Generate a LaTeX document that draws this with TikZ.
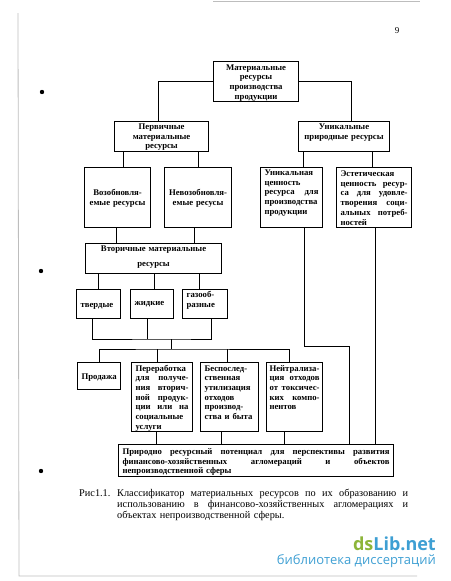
\documentclass[tikz,border=0pt]{standalone}
\usepackage{fontspec}
\setmainfont{Liberation Serif}
\newfontfamily\wmfont{Open Sans}
\usetikzlibrary{positioning}
\definecolor{wmgreen}{HTML}{8DB53A}
\definecolor{wmblue}{HTML}{3E9FD3}
\definecolor{scang}{HTML}{BDBDBD}
\newcommand{\jl}[1]{{\spaceskip=0pt\xspaceskip=0pt\makebox[\hsize][s]{#1}}}

\begin{document}
\begin{tikzpicture}[x=1pt, y=-1pt,
  box/.style={draw, line width=1.1pt, anchor=north west, inner xsep=4pt, inner ysep=0pt, font=\bfseries\fontsize{8.7}{9.7}\selectfont},
  link/.style={line width=0.9pt}]
  \useasboundingbox (0,0) rectangle (450,581);
  \draw[scang, line width=0.8pt] (18,13) -- (19,576) -- (417,576);
  \draw[scang, line width=1pt] (213,1) -- (420,1);
  \foreach \y/\x in {92/42,271/41,471/41}{\fill (\x,\y) circle[radius=2.2pt];}
  \node[font=\fontsize{9}{9}\selectfont, anchor=base] (pnum) at (397,33) {9};

  \node[box, text width=77pt, text height=8.5pt, text depth=31.5pt, align=center] (top) at (213,61) {Материальные\\ресурсы\\производства\\продукции};
  \node[box, text width=86pt, text height=8pt, text depth=22pt, align=center] (prim) at (114,121) {Первичные\\материальные\\ресурсы};
  \node[box, text width=83pt, text height=8pt, text depth=22pt, align=center] (uniq) at (298,121) {Уникальные\\природные ресурсы};
  \node[box, text width=58pt, text height=28pt, text depth=32pt, align=center] (renew) at (84,167) {Возобновля-\\емые ресурсы};
  \node[box, text width=59pt, text height=28pt, text depth=32pt, align=center] (nonren) at (164,167) {\mbox{Невозобновля-}\\емые ресусы};
  \node[box, text width=54pt, text height=8pt, text depth=52pt, align=left] (uval) at (260,167) {Уникальная\\ценность\\\jl{ресурса для}\\производства\\продукции};
  \node[box, text width=67pt, text height=9pt, text depth=51pt, align=left] (aest) at (336,167) {Эстетическая\\\jl{ценность ресур-}\\\jl{са для удовле-}\\\jl{творения соци-}\\\jl{альных потреб-}\\ностей};
  \node[box, text width=128pt, text height=8pt, text depth=22pt, align=center, font=\bfseries\fontsize{8.7}{15}\selectfont] (second) at (85,243) {Вторичные материальные\\ресурсы};
  \node[box, text width=36pt, text height=18pt, text depth=11pt, align=left] (solid) at (76,289) {твердые};
  \node[box, text width=35pt, text height=16pt, text depth=13pt, align=left] (liquid) at (130,289) {жидкие};
  \node[box, text width=37pt, text height=8pt, text depth=21pt, align=left] (gas) at (182,289) {газооб-\\разные};
  \node[box, text width=35pt, text height=17pt, text depth=10pt, align=left] (sale) at (77,362) {Продажа};
  \node[box, text width=53pt, text height=8.5pt, text depth=60.5pt, align=left] (proc) at (131,362) {Переработка\\\jl{для получе-}\\\jl{ния вторич-}\\\jl{ной продук-}\\\jl{ции или на}\\социальные\\услуги};
  \node[box, text width=50pt, text height=8.5pt, text depth=60.5pt, align=left] (util) at (200,362) {Беспослед-\\ственная\\утилизация\\отходов\\производ-\\ства и быта};
  \node[box, text width=50pt, inner xsep=3pt, text height=8.5pt, text depth=60.5pt, align=left] (neut) at (266,362) {\mbox{Нейтрализа-}\\\jl{ция отходов}\\\jl{от токсичес-}\\\jl{ких компо-}\\нентов};
  \node[box, text width=267pt, text height=10pt, text depth=22pt, align=left] (final) at (118,444) {\jl{Природно ресурсный потенциал для перспективы развития}\\\jl{финансово-хозяйственных агломераций и объектов}\\непроизводственной сферы};

  \draw[link] (top.west) -| ([xshift=-3pt]prim.north);
  \draw[link] (top.east) -| ([xshift=7.5pt]uniq.north);
  \draw[link] ([xshift=6pt]renew.north) -- ([xshift=6pt]renew.north |- prim.south);
  \draw[link] (nonren.north) -- (nonren.north |- prim.south);
  \draw[link] ([xshift=12pt]uval.north) -- ([xshift=12pt]uval.north |- uniq.south);
  \draw[link] ([xshift=-1.5pt]aest.north) -- ([xshift=-1.5pt]aest.north |- uniq.south);
  \draw[link] ([xshift=-1pt]renew.south) -- ([xshift=-1pt]renew.south |- second.north);
  \draw[link] ([xshift=-3.5pt]nonren.south) -- ([xshift=-3.5pt]nonren.south |- second.north);
  \draw[link] (solid.north) -- (solid.north |- second.south);
  \draw[link] ([xshift=2.5pt]liquid.north) -- ([xshift=2.5pt]liquid.north |- second.south);
  \draw[link] ([xshift=-5.5pt]gas.north) -- ([xshift=-5.5pt]gas.north |- second.south);
  \coordinate (join) at (171,339);
  \coordinate (split) at (171,349);
  \draw[link] ([xshift=-6pt]solid.south) |- (join) -| ([xshift=6.5pt]gas.south);
  \draw[link] ([xshift=-4.5pt]liquid.south) -- ([xshift=-4.5pt]liquid.south |- join);
  \draw[link] (join) -- (split);
  \draw[link] (sale.north) |- (split) -| ([xshift=-5pt]neut.north);
  \draw[link] ([xshift=-4.5pt]proc.north) -- ([xshift=-4.5pt]proc.north |- split);
  \draw[link] ([xshift=-2pt]util.north) -- ([xshift=-2pt]util.north |- split);
  \draw[link] ([xshift=-5.5pt]proc.south) -- ([xshift=-5.5pt]proc.south |- final.north);
  \draw[link] ([xshift=-8pt]util.south) -- ([xshift=-8pt]util.south |- final.north);
  \draw[link] ([xshift=-10pt]neut.south) -- ([xshift=-10pt]neut.south |- final.north);
  \coordinate (uvbend) at (349,346);
  \draw[link] ([xshift=13pt]uval.south) |- (uvbend) -- (uvbend |- final.north);
  \draw[link] ([xshift=1.5pt]aest.south) -- ([xshift=1.5pt]aest.south |- final.north);

  \node[anchor=base west, inner sep=0pt, font=\fontsize{10.3}{11}\selectfont] (fignum) at (79,496.5) {Рис1.1.};
  \node[anchor=base west, inner sep=0pt, text width=291pt, align=left, font=\fontsize{10.3}{11}\selectfont] (caption) at (117,496.5) {\jl{Классификатор материальных ресурсов по их образованию и}\\\jl{использованию в финансово-хозяйственных агломерациях и}\\объектах непроизводственной сферы.};

  \node[anchor=base east, inner sep=0pt, font=\wmfont\bfseries\fontsize{18}{18}\selectfont] (wmtop) at (436,550) {\textcolor{wmgreen}{ds}\textcolor{wmblue}{Lib.net}};
  \node[anchor=base east, inner sep=0pt, text=wmblue, font=\wmfont\fontsize{13}{13}\selectfont] (wmbot) at (436,564) {библиотека диссертаций};
\end{tikzpicture}
\end{document}
